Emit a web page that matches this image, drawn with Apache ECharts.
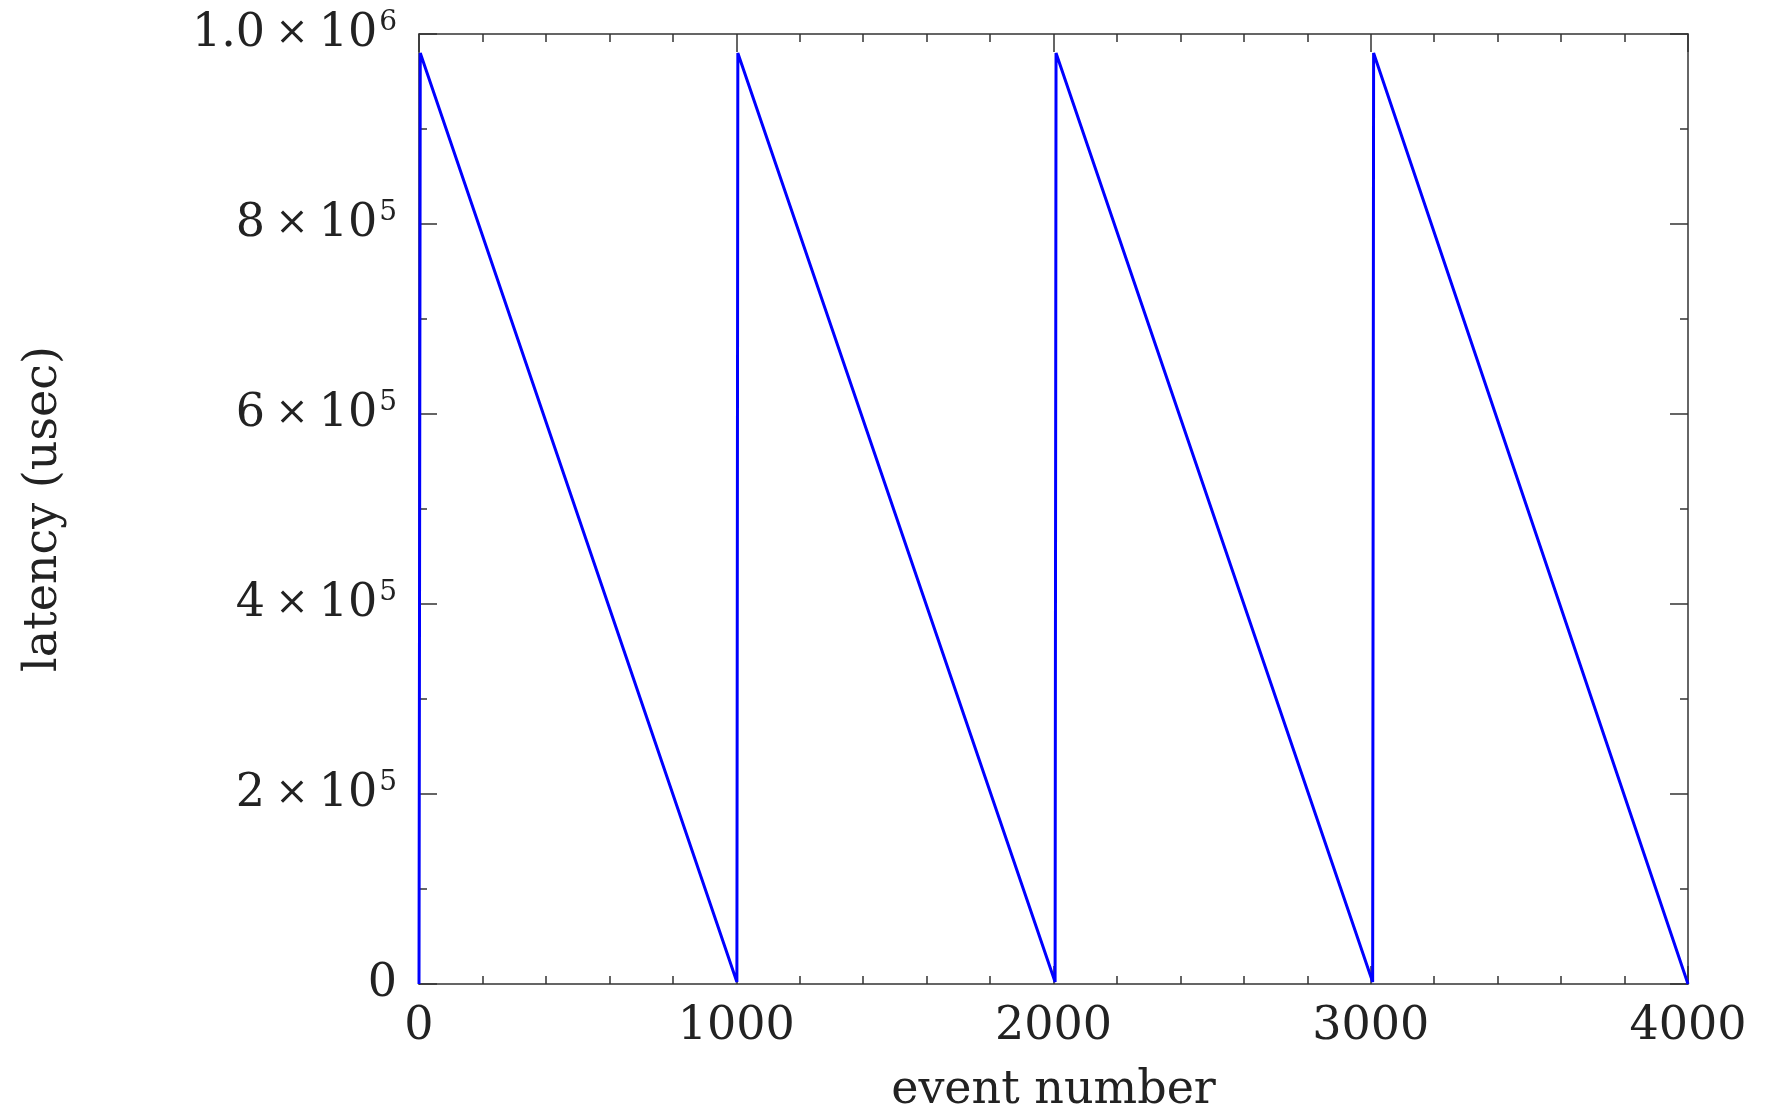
<!DOCTYPE html>
<html>
<head>
<meta charset="utf-8">
<script src="https://cdn.jsdelivr.net/npm/echarts@6/dist/echarts.min.js"></script>
<style>
  html, body { margin: 0; padding: 0; background: #fff; }
  #main { width: 1780px; height: 1119px; }
</style>
</head>
<body>
<div id="main"></div>
<script>
// sawtooth corners
var eventNumbers = [0, 4, 1002, 1005, 2005, 2008, 3006, 3009, 4000];
var latencies = [0, 980000, 2000, 980000, 2000, 980000, 2000, 980000, 0];

var yTickValues = [0, 200000, 400000, 600000, 800000, 1000000];
var yTickMantissa = ['0', '2', '4', '6', '8', '1.0'];
var yTickExponent = ['', '5', '5', '5', '5', '6'];

var xTickValues = [0, 1000, 2000, 3000, 4000];

var points = eventNumbers.map(function (x, i) { return [x, latencies[i]]; });

var font = 'DejaVu Serif';
var ink = '#222';

function yLabel(v) {
  var i = yTickValues.indexOf(v);
  if (i < 0) return '';
  if (!yTickExponent[i]) return '{m|' + yTickMantissa[i] + '}';
  return '{m|' + yTickMantissa[i] + '}{x|×}{m|10}{s|' + yTickExponent[i] + '}';
}

var tickStyle = { color: '#333', width: 1.5 };
var frameLine = { show: true, onZero: false, lineStyle: { color: '#333', width: 1.5 } };

var myChart = echarts.init(document.getElementById('main'));
myChart.setOption({
  animation: false,
  backgroundColor: '#fff',
  grid: { left: 419, top: 34, right: 92, bottom: 134, containLabel: false },
  xAxis: [
    {
      type: 'value',
      min: 0, max: 4000, interval: 1000,
      position: 'bottom',
      name: 'event number',
      nameLocation: 'middle',
      nameGap: 84,
      nameTextStyle: { fontFamily: font, fontSize: 46, color: ink },
      axisLine: frameLine,
      axisTick: { show: true, inside: true, length: 18, lineStyle: tickStyle },
      minorTick: { show: true, splitNumber: 5, length: 8, lineStyle: tickStyle },
      splitLine: { show: false },
      axisLabel: {
        margin: 20, fontFamily: font, fontSize: 46, color: ink,
        formatter: function (v) { return xTickValues.indexOf(v) >= 0 ? String(v) : ''; }
      }
    },
    {
      type: 'value',
      min: 0, max: 4000, interval: 1000,
      position: 'top',
      axisLine: frameLine,
      axisTick: { show: true, inside: true, length: 18, lineStyle: tickStyle },
      minorTick: { show: true, splitNumber: 5, length: 8, lineStyle: tickStyle },
      splitLine: { show: false },
      axisLabel: { show: false }
    }
  ],
  yAxis: [
    {
      type: 'value',
      min: 0, max: 1000000, interval: 200000,
      position: 'left',
      name: 'latency (usec)',
      nameLocation: 'middle',
      nameGap: 352,
      nameTextStyle: { fontFamily: font, fontSize: 46, color: ink },
      axisLine: frameLine,
      axisTick: { show: true, inside: true, length: 18, lineStyle: tickStyle },
      minorTick: { show: true, splitNumber: 2, length: 8, lineStyle: tickStyle },
      splitLine: { show: false },
      axisLabel: {
        margin: 22,
        formatter: yLabel,
        rich: {
          m: { fontFamily: font, fontSize: 46, color: ink, lineHeight: 50 },
          x: { fontFamily: font, fontSize: 40, color: ink, padding: [0, 10, 0, 10], lineHeight: 50 },
          s: { fontFamily: font, fontSize: 28, color: ink, verticalAlign: 'top', lineHeight: 28, padding: [0, 0, 0, 2] }
        }
      }
    },
    {
      type: 'value',
      min: 0, max: 1000000, interval: 200000,
      position: 'right',
      axisLine: frameLine,
      axisTick: { show: true, inside: true, length: 18, lineStyle: tickStyle },
      minorTick: { show: true, splitNumber: 2, length: 8, lineStyle: tickStyle },
      splitLine: { show: false },
      axisLabel: { show: false }
    }
  ],
  series: [
    {
      name: 'latency',
      type: 'line',
      xAxisIndex: 0,
      yAxisIndex: 0,
      data: points,
      showSymbol: false,
      lineStyle: { color: '#0000ff', width: 3 },
      clip: true
    }
  ]
});
</script>
</body>
</html>
